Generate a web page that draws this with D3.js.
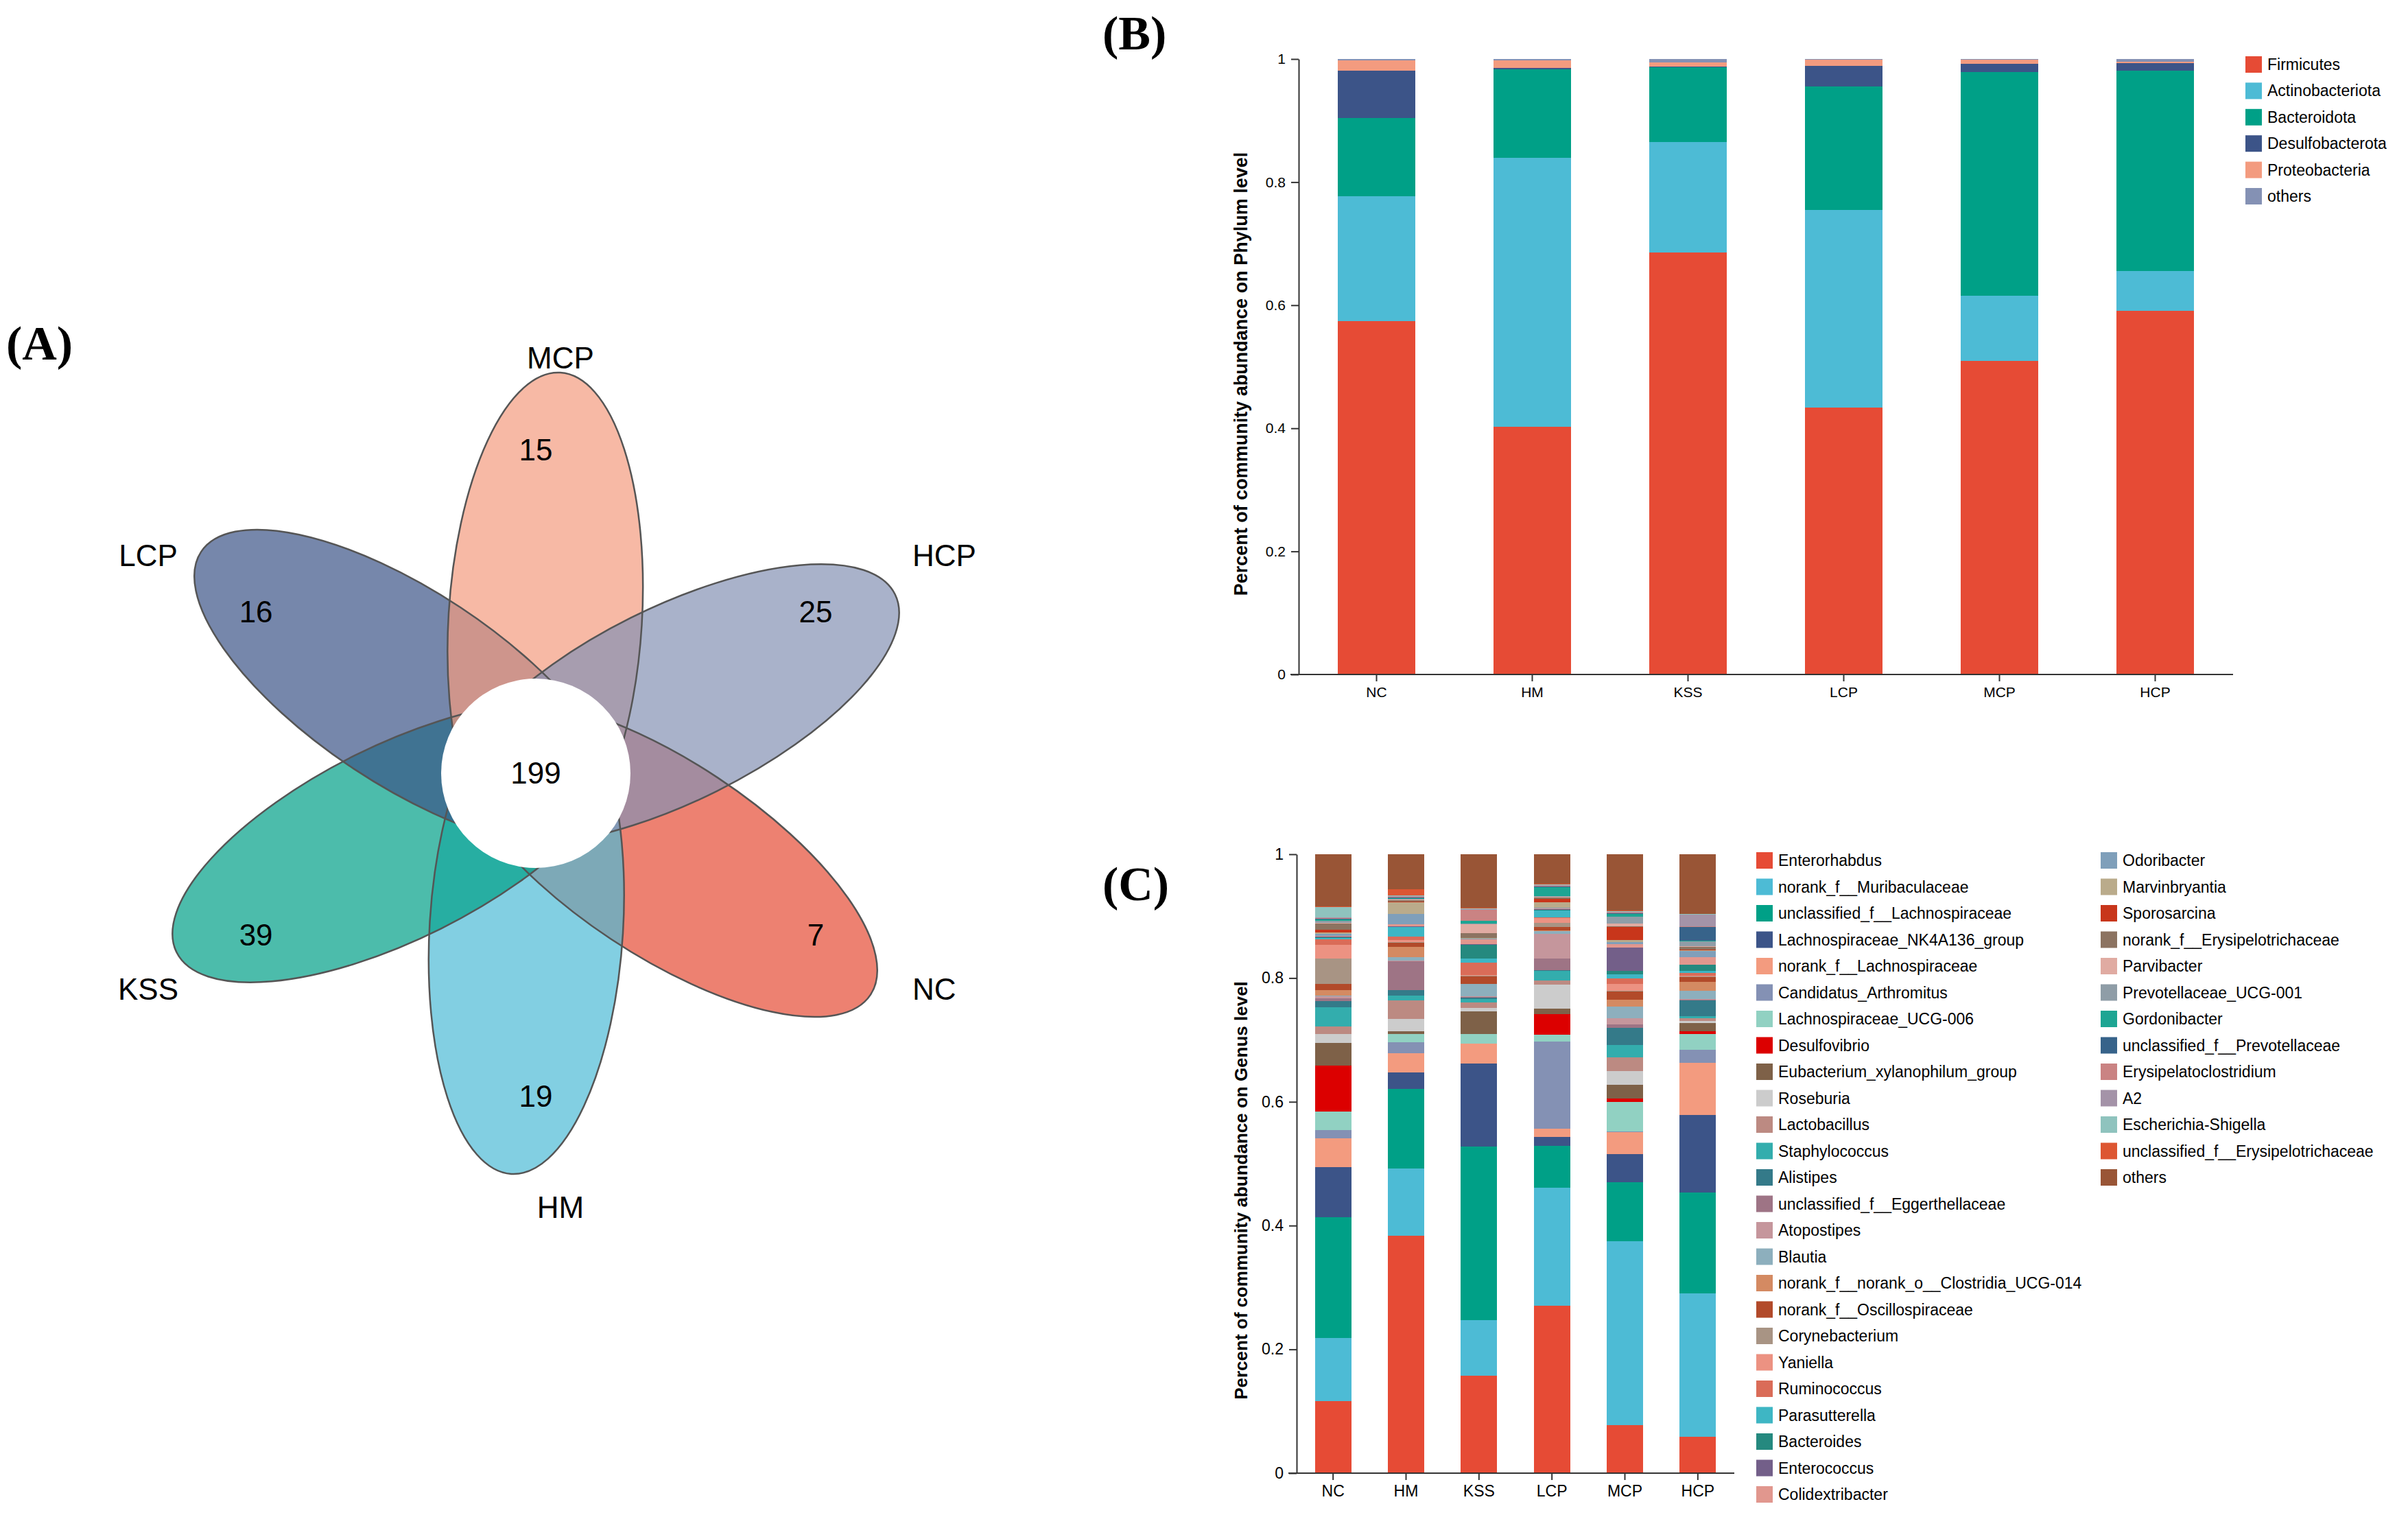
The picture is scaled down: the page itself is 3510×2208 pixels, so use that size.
<!DOCTYPE html>
<html>
<head>
<meta charset="utf-8">
<script src="https://cdn.jsdelivr.net/npm/d3@7"></script>
<style>
  body { margin: 0; background: #fff; }
  text { font-family: "Liberation Sans", Arial, sans-serif; fill: #000; }
</style>
</head>
<body>
<svg id="fig"></svg>
<script>
var W = 3510, H = 2208;

// ---- data ----
var samples = ["NC", "HM", "KSS", "LCP", "MCP", "HCP"];
var yTicks = [0, 0.2, 0.4, 0.6, 0.8, 1];

var phylumNames = ["Firmicutes", "Actinobacteriota", "Bacteroidota", "Desulfobacterota", "Proteobacteria", "others"];
var phylumColors = ["#E64B35", "#4DBBD5", "#00A087", "#3C5488", "#F39B7F", "#8491B4"];
var phylumNC  = [0.574, 0.203, 0.127, 0.077, 0.017, 0.002];
var phylumHM  = [0.402, 0.438, 0.143, 0.002, 0.013, 0.002];
var phylumKSS = [0.686, 0.179, 0.122, 0.001, 0.006, 0.006];
var phylumLCP = [0.434, 0.321, 0.200, 0.034, 0.010, 0.001];
var phylumMCP = [0.510, 0.105, 0.364, 0.013, 0.007, 0.001];
var phylumHCP = [0.591, 0.065, 0.325, 0.012, 0.003, 0.004];

var genusNames = ["Enterorhabdus", "norank_f__Muribaculaceae", "unclassified_f__Lachnospiraceae",
  "Lachnospiraceae_NK4A136_group", "norank_f__Lachnospiraceae", "Candidatus_Arthromitus",
  "Lachnospiraceae_UCG-006", "Desulfovibrio", "Eubacterium_xylanophilum_group", "Roseburia",
  "Lactobacillus", "Staphylococcus", "Alistipes", "unclassified_f__Eggerthellaceae", "Atopostipes",
  "Blautia", "norank_f__norank_o__Clostridia_UCG-014", "norank_f__Oscillospiraceae", "Corynebacterium",
  "Yaniella", "Ruminococcus", "Parasutterella", "Bacteroides", "Enterococcus", "Colidextribacter",
  "Odoribacter", "Marvinbryantia", "Sporosarcina", "norank_f__Erysipelotrichaceae", "Parvibacter",
  "Prevotellaceae_UCG-001", "Gordonibacter", "unclassified_f__Prevotellaceae", "Erysipelatoclostridium",
  "A2", "Escherichia-Shigella", "unclassified_f__Erysipelotrichaceae", "others"];
var genusColors = ["#E64B35", "#4DBBD5", "#00A087", "#3C5488", "#F39B7F", "#8491B4", "#91D1C2", "#DC0000",
  "#7E6148", "#CCCCCC", "#BC8A82", "#33ADAD", "#347A89", "#9E7485", "#C5969C", "#8DAFBD", "#D48A62",
  "#B24A2A", "#A89484", "#EC9282", "#DA6C58", "#3EB6C4", "#25897F", "#735F89", "#E1978E", "#7F9FBA",
  "#BAAB8B", "#C8361B", "#8C7361", "#E0ABA2", "#8F9DA7", "#1DA593", "#37638A", "#CA8383", "#A493A8",
  "#8FC3BE", "#DD5632", "#995536"];
var genusNC  = [0.116,0.102,0.195,0.081,0.047,0.013,0.030,0.075,0.036,0.015,0.012,0.031,0.010,0.004,0.004,0.001,0.009,0.010,0.041,0.022,0.008,0.003,0.001,0.001,0.001,0.003,0.003,0.004,0.010,0.001,0.004,0.002,0.001,0.001,0.001,0.017,0.001,0.084];
var genusHM  = [0.384,0.108,0.129,0.027,0.031,0.017,0.014,0.000,0.004,0.020,0.030,0.008,0.008,0.047,0.001,0.006,0.016,0.007,0.001,0.003,0.006,0.015,0.001,0.001,0.003,0.017,0.018,0.002,0.002,0.001,0.001,0.001,0.001,0.001,0.001,0.001,0.010,0.057];
var genusKSS = [0.157,0.090,0.281,0.134,0.032,0.000,0.016,0.000,0.036,0.006,0.009,0.005,0.002,0.001,0.001,0.020,0.001,0.012,0.001,0.001,0.020,0.007,0.022,0.001,0.008,0.001,0.001,0.000,0.007,0.015,0.001,0.004,0.001,0.017,0.001,0.001,0.001,0.087];
var genusLCP = [0.271,0.190,0.068,0.014,0.014,0.140,0.011,0.034,0.009,0.038,0.007,0.016,0.001,0.018,0.040,0.005,0.001,0.006,0.006,0.008,0.001,0.011,0.001,0.001,0.001,0.002,0.008,0.006,0.002,0.001,0.001,0.015,0.001,0.001,0.001,0.001,0.001,0.048];
var genusMCP = [0.078,0.297,0.095,0.046,0.035,0.001,0.048,0.005,0.023,0.022,0.022,0.020,0.028,0.005,0.010,0.019,0.011,0.013,0.001,0.012,0.008,0.007,0.006,0.037,0.006,0.003,0.003,0.022,0.001,0.004,0.011,0.005,0.001,0.001,0.001,0.001,0.001,0.091];
var genusHCP = [0.059,0.232,0.162,0.126,0.084,0.021,0.025,0.005,0.013,0.004,0.004,0.003,0.026,0.001,0.001,0.013,0.015,0.008,0.001,0.001,0.004,0.003,0.010,0.001,0.012,0.010,0.001,0.001,0.004,0.001,0.008,0.001,0.022,0.002,0.018,0.001,0.001,0.096];

// Venn: petals clockwise from the top
var vennSets   = ["MCP", "HCP", "NC", "HM", "KSS", "LCP"];
var vennUnique = [15, 25, 7, 19, 39, 16];
var vennColors = ["#F39B7F", "#8491B4", "#E64B35", "#4DBBD5", "#00A087", "#3C5488"];
var vennCore   = 199;

var svg = d3.select("#fig").attr("width", W).attr("height", H);
svg.append("rect").attr("width", W).attr("height", H).attr("fill", "#fff");

// ---- stacked bar panel ----
function stackedPanel(o) {
  var table = samples.map(function(s, i) {
    var row = { sample: s };
    o.names.forEach(function(n, j) { row[n] = o.rows[i][j]; });
    return row;
  });
  var x = d3.scaleBand().domain(samples).range([o.x0, o.x1]).paddingInner(0.5).paddingOuter(0.25);
  var y = d3.scaleLinear().domain([0, 1]).range([o.y0, o.y1]);
  var color = d3.scaleOrdinal().domain(o.names).range(o.colors);
  var series = d3.stack().keys(o.names)(table);

  var g = svg.append("g");
  g.selectAll("g.layer").data(series).enter().append("g")
    .attr("class", "layer")
    .attr("fill", function(d) { return color(d.key); })
    .selectAll("rect").data(function(d) { return d; }).enter().append("rect")
    .attr("shape-rendering", "crispEdges")
    .attr("x", function(d) { return x(d.data.sample); })
    .attr("width", x.bandwidth())
    .attr("y", function(d) { return y(Math.min(d[1], 1)); })
    .attr("height", function(d) { return Math.max(0, y(Math.min(d[0], 1)) - y(Math.min(d[1], 1))); });

  var ya = g.append("g").attr("transform", "translate(" + o.x0 + ",0)")
    .call(d3.axisLeft(y).tickValues(yTicks).tickFormat(d3.format("~g"))
      .tickSize(11).tickSizeOuter(0).tickPadding(8));
  var xa = g.append("g").attr("transform", "translate(0," + o.y0 + ")")
    .call(d3.axisBottom(x).tickSize(10).tickSizeOuter(0).tickPadding(8));
  xa.select(".domain").attr("d", "M" + (o.x0 - 12) + ",0H" + o.x1);

  [ya, xa].forEach(function(a) {
    a.selectAll(".domain, .tick line").attr("stroke", "#333").attr("stroke-width", 2);
    a.selectAll("text").attr("font-size", o.tickFont).attr("fill", "#000")
      .attr("font-family", "'Liberation Sans', Arial, sans-serif");
  });

  g.append("text")
    .attr("transform", "translate(" + o.titleX + "," + o.titleY + ") rotate(-90)")
    .attr("text-anchor", "middle")
    .attr("font-size", o.titleFont).attr("font-weight", "bold")
    .text(o.title);

  // legend
  o.names.forEach(function(n, i) {
    var col = Math.floor(i / o.legRows), r = i % o.legRows;
    var lx = o.legX + col * o.legColW, ly = o.legY + r * o.legStep;
    g.append("rect").attr("x", lx).attr("y", ly - 12).attr("width", 24).attr("height", 24)
      .attr("fill", color(n));
    g.append("text").attr("x", lx + 32).attr("y", ly).attr("dy", "0.35em")
      .attr("font-size", 23).text(n);
  });
}

stackedPanel({
  names: phylumNames, colors: phylumColors,
  rows: [phylumNC, phylumHM, phylumKSS, phylumLCP, phylumMCP, phylumHCP],
  x0: 1893, x1: 3255, y0: 983, y1: 86, tickFont: 21,
  title: "Percent of community abundance on Phylum level", titleX: 1818, titleY: 545, titleFont: 27,
  legX: 3273, legY: 94, legStep: 38.4, legRows: 6, legColW: 0
});

stackedPanel({
  names: genusNames, colors: genusColors,
  rows: [genusNC, genusHM, genusKSS, genusLCP, genusMCP, genusHCP],
  x0: 1890, x1: 2528, y0: 2147, y1: 1245, tickFont: 23,
  title: "Percent of community abundance on Genus level", titleX: 1818, titleY: 1735, titleFont: 26,
  legX: 2560, legY: 1254, legStep: 38.5, legRows: 25, legColW: 502
});

// ---- Venn flower ----
var vc = [781, 1127], tilt = -3.5, petalA = 360, petalB = 141, petalOff = 225;
var venn = svg.append("g");
function petalAngle(i) { return 90 - 60 * i; }
var drawOrder = d3.range(6).map(function(k) { return (k + 2) % 6; });

function petalTransform(i) {
  var deg = petalAngle(i) + tilt, t = deg * Math.PI / 180;
  var cx = vc[0] + petalOff * Math.cos(t), cy = vc[1] - petalOff * Math.sin(t);
  return "translate(" + cx + "," + cy + ") rotate(" + (-deg) + ")";
}

venn.selectAll("ellipse.fill").data(drawOrder).enter().append("ellipse")
  .attr("class", "fill")
  .attr("rx", petalA).attr("ry", petalB)
  .attr("transform", petalTransform)
  .attr("fill", function(i) { return vennColors[i]; })
  .attr("fill-opacity", 0.7);

venn.selectAll("ellipse.edge").data(drawOrder).enter().append("ellipse")
  .attr("class", "edge")
  .attr("rx", petalA).attr("ry", petalB)
  .attr("transform", petalTransform)
  .attr("fill", "none").attr("stroke", "#555").attr("stroke-width", 2.5);

venn.append("circle").attr("cx", vc[0]).attr("cy", vc[1]).attr("r", 138).attr("fill", "#fff");

venn.selectAll("text.count").data(vennUnique).enter().append("text")
  .attr("class", "count")
  .attr("x", function(d, i) { return vc[0] + 471 * Math.cos(petalAngle(i) * Math.PI / 180); })
  .attr("y", function(d, i) { return vc[1] - 471 * Math.sin(petalAngle(i) * Math.PI / 180); })
  .attr("dy", "0.35em").attr("text-anchor", "middle").attr("font-size", 44)
  .text(function(d) { return d; });

venn.append("text").attr("x", vc[0]).attr("y", vc[1]).attr("dy", "0.35em")
  .attr("text-anchor", "middle").attr("font-size", 44).text(vennCore);

// set labels sit just outside the petal tips
var labelOffset = {
  MCP: [36, -605, "middle"], HCP: [549, -317, "start"], NC: [549, 315, "start"],
  HM: [36, 633, "middle"], KSS: [-565, 315, "middle"], LCP: [-565, -317, "middle"]
};
venn.selectAll("text.set").data(vennSets).enter().append("text")
  .attr("class", "set")
  .attr("x", function(d) { return vc[0] + labelOffset[d][0]; })
  .attr("y", function(d) { return vc[1] + labelOffset[d][1]; })
  .attr("dy", "0.35em")
  .attr("text-anchor", function(d) { return labelOffset[d][2]; })
  .attr("font-size", 44)
  .text(function(d) { return d; });

// ---- panel letters ----
var panelLetters = [["(A)", 9, 524], ["(B)", 1607, 72], ["(C)", 1607, 1312]];
svg.selectAll("text.panel").data(panelLetters).enter().append("text")
  .attr("class", "panel")
  .attr("x", function(d) { return d[1]; }).attr("y", function(d) { return d[2]; })
  .style("font-family", "'Liberation Serif', 'Times New Roman', serif")
  .attr("font-weight", "bold").attr("font-size", 70)
  .text(function(d) { return d[0]; });
</script>
</body>
</html>
